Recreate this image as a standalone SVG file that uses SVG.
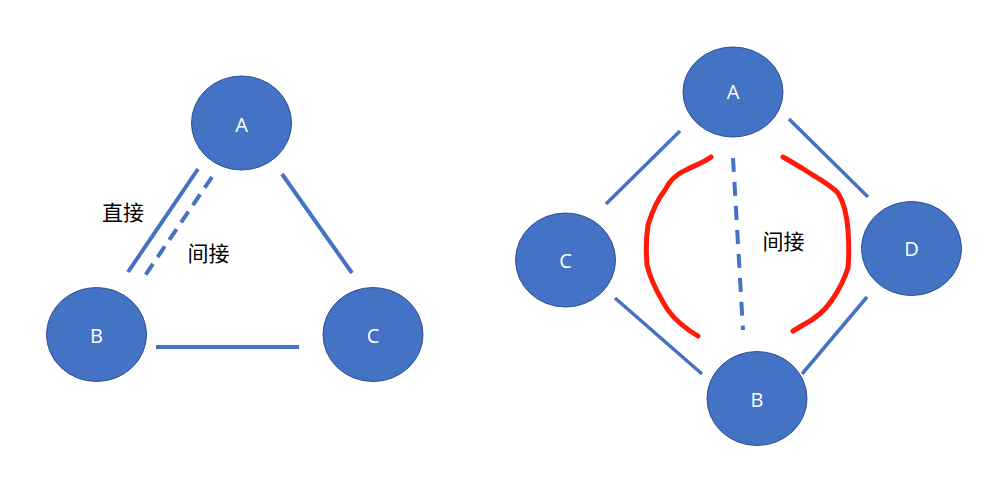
<svg xmlns="http://www.w3.org/2000/svg" width="1008" height="495" viewBox="0 0 1008 495">
<style>
.node{fill:#4472C4;stroke:#2F528F;stroke-width:1}
.nl{fill:#fff;font-family:"Open Sans","Liberation Sans","Noto Sans CJK SC",sans-serif;font-size:20px;text-anchor:middle;dominant-baseline:central}
.lbl{fill:#000;font-family:"Noto Sans CJK SC","Liberation Sans",sans-serif;font-size:21px;text-anchor:middle;dominant-baseline:central}
.e{stroke:#4472C4;fill:none}
.red{stroke:#FF1A0A;stroke-width:5;fill:none;stroke-linecap:round;stroke-linejoin:round}
</style>
<rect width="1008" height="495" fill="#fff"/>
<g id="connectors">
<line class="e" stroke-width="4" x1="198" y1="169" x2="128" y2="272"/>
<line class="e" stroke-width="4" stroke-dasharray="13 8" x1="212" y1="177" x2="142" y2="280"/>
<line class="e" stroke-width="4" x1="282" y1="174" x2="352" y2="273"/>
<line class="e" stroke-width="4" x1="156" y1="347" x2="299" y2="347"/>
<line class="e" stroke-width="3.5" x1="606" y1="204" x2="680" y2="131"/>
<line class="e" stroke-width="3.5" x1="789" y1="119" x2="868" y2="197"/>
<line class="e" stroke-width="3.5" x1="615" y1="298" x2="702" y2="374"/>
<line class="e" stroke-width="3.5" x1="867" y1="297" x2="802" y2="374"/>
<line class="e" stroke-width="4" stroke-dasharray="14 10" x1="733" y1="158" x2="743" y2="330"/>
<path class="red" d="M711,157 C703,163 695,165 686,170 C676,174 670,180 665,190 C657,200 652,212 648,225 C646,238 646,252 647,265 C650,278 656,290 663,302 C670,316 680,324 690,331 L698,336"/>
<path class="red" d="M783,157 C790,161 797,165 805,170 C815,177 828,183 838,193 C844,203 847,216 848,230 C849,244 849,257 848,268 C844,280 839,290 832,300 C824,312 813,320 803,325 L793,331"/>
</g>
<g id="L-A"><ellipse class="node" cx="241.5" cy="123" rx="50" ry="47"/><text class="nl" x="241.5" y="124">A</text></g>
<g id="L-B"><ellipse class="node" cx="96.5" cy="334.5" rx="50" ry="47"/><text class="nl" x="96.5" y="335">B</text></g>
<g id="L-C"><ellipse class="node" cx="373" cy="334.5" rx="50" ry="47"/><text class="nl" x="373" y="335">C</text></g>
<g id="R-A"><ellipse class="node" cx="733" cy="92" rx="50" ry="45"/><text class="nl" x="733" y="91">A</text></g>
<g id="R-C"><ellipse class="node" cx="565.5" cy="260" rx="50" ry="47"/><text class="nl" x="565.5" y="260">C</text></g>
<g id="R-D"><ellipse class="node" cx="911.5" cy="248.5" rx="50" ry="47"/><text class="nl" x="911.5" y="248">D</text></g>
<g id="R-B"><ellipse class="node" cx="757" cy="398.5" rx="50" ry="47"/><text class="nl" x="757" y="399">B</text></g>
<g id="labels">
<text class="lbl" x="123" y="211">直接</text>
<text class="lbl" x="208.5" y="252">间接</text>
<text class="lbl" x="783.5" y="240">间接</text>
</g>
</svg>
